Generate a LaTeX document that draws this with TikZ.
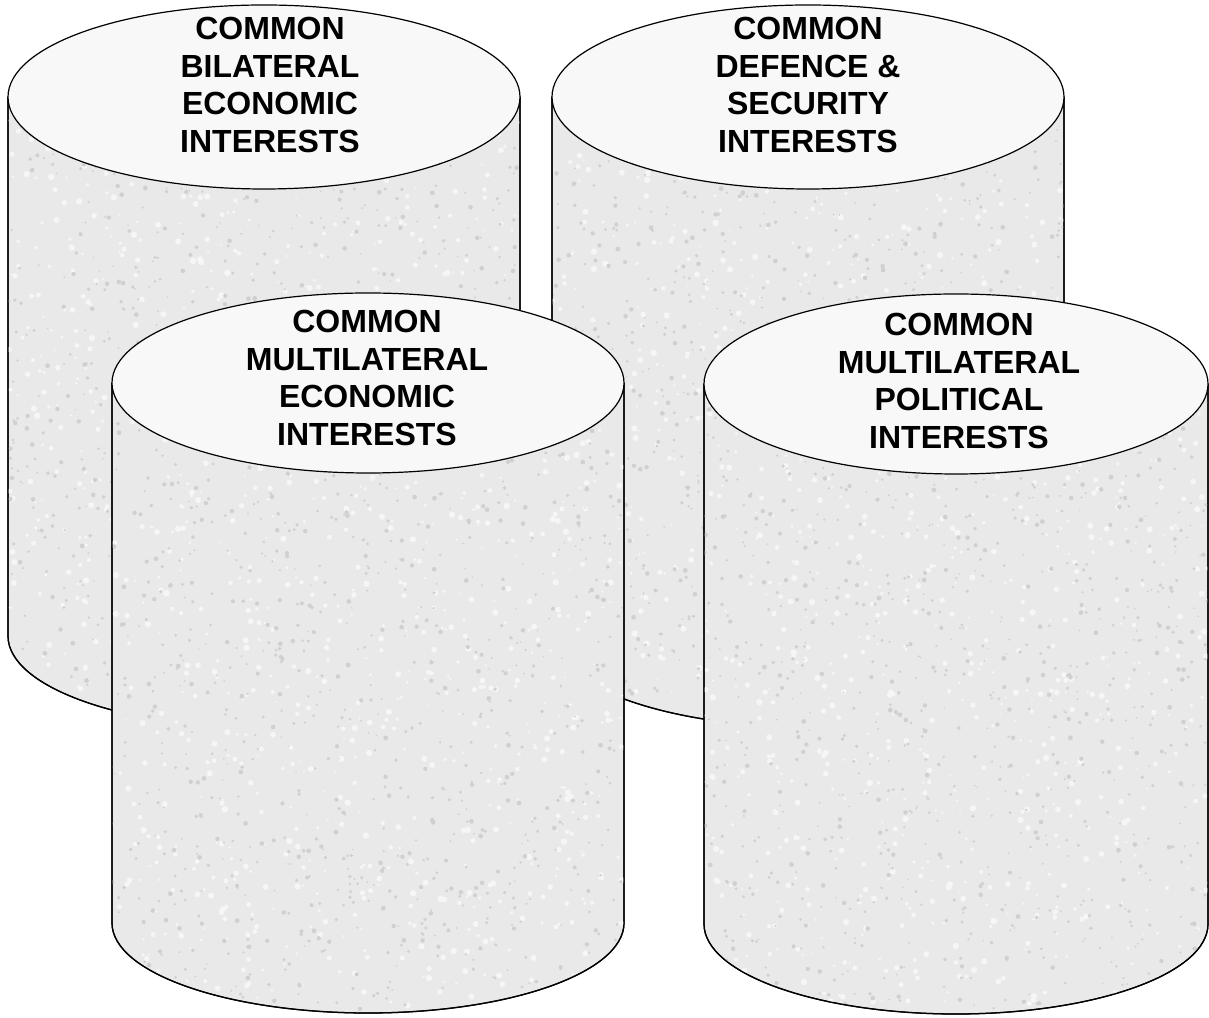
\documentclass[tikz,border=0pt]{standalone}
\usepackage{fontspec}
\setmainfont{Liberation Sans}
\begin{document}
\begin{tikzpicture}[x=1pt,y=1pt,
  body/.style={fill={rgb,255:red,233;green,233;blue,233},draw=black,line width=1.2pt,line join=round},
  lid/.style={fill={rgb,255:red,248;green,248;blue,248},draw=black,line width=1.2pt},
  speckd/.style={fill={rgb,255:red,208;green,208;blue,208}},
  speckl/.style={fill={rgb,255:red,246;green,246;blue,246}},
  label/.style={align=center,font=\fontsize{32}{37.8}\selectfont\bfseries,inner sep=0pt}]
\useasboundingbox (0,0) rectangle (1209,1017);
\pgfmathsetseed{7}
% cx, topY, botY, rx, ry
\foreach \cx/\ty/\by/\rx/\ry/\nm in {264/920/381/256/92/c1, 808/920/382/256/92/c2, 368/634/94/256/90/c3, 956/633/93/252/90/c4}{
  \path[body] (\cx-\rx,\ty) -- (\cx-\rx,\by) arc[start angle=180,end angle=360,x radius=\rx,y radius=\ry] -- (\cx+\rx,\ty) -- cycle;
  \begin{scope}
    \clip (\cx-\rx,\ty) -- (\cx-\rx,\by) arc[start angle=180,end angle=360,x radius=\rx,y radius=\ry] -- (\cx+\rx,\ty) -- cycle;
    \foreach \i in {1,...,700}{
      \pgfmathsetmacro\px{\cx-\rx+rnd*2*\rx}
      \pgfmathsetmacro\py{\by-\ry+rnd*(\ty-\by+\ry)}
      \pgfmathsetmacro\rr{1+rnd*2.2}
      \fill[speckl] (\px,\py) circle[radius=\rr];
    }
    \foreach \i in {1,...,900}{
      \pgfmathsetmacro\px{\cx-\rx+rnd*2*\rx}
      \pgfmathsetmacro\py{\by-\ry+rnd*(\ty-\by+\ry)}
      \pgfmathsetmacro\rr{0.8+rnd*1.6}
      \fill[speckd] (\px,\py) circle[radius=\rr];
    }
  \end{scope}
  \draw[line width=1.3pt] (\cx-\rx,\ty) -- (\cx-\rx,\by) arc[start angle=180,end angle=360,x radius=\rx,y radius=\ry] -- (\cx+\rx,\ty);
  \path[lid] (\cx,\ty) ellipse[x radius=\rx,y radius=\ry];
}
\node[label] (t1) at (270,932) {COMMON\\BILATERAL\\ECONOMIC\\INTERESTS};
\node[label] (t2) at (808,932) {COMMON\\DEFENCE \&\\SECURITY\\INTERESTS};
\node[label] (t3) at (367,639) {COMMON\\MULTILATERAL\\ECONOMIC\\INTERESTS};
\node[label] (t4) at (959,636) {COMMON\\MULTILATERAL\\POLITICAL\\INTERESTS};
\end{tikzpicture}
\end{document}
